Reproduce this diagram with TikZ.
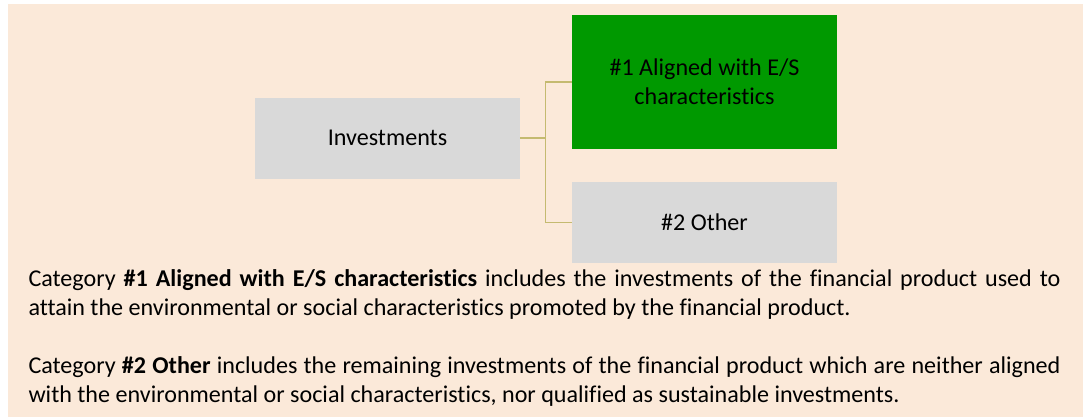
\documentclass[tikz,border=0pt]{standalone}
\usepackage{fontspec}
\setmainfont[RawFeature={-liga;-clig}]{Carlito}
\definecolor{bgpeach}{RGB}{251,233,217}
\definecolor{boxgray}{RGB}{217,217,217}
\definecolor{boxgreen}{RGB}{0,153,0}
\definecolor{linekhaki}{RGB}{196,186,112}
\tikzset{
  catbox/.style={rectangle, inner sep=0pt, minimum width=265pt, align=center,
    font=\fontsize{24.1}{28.5}\selectfont, text=black},
  grayfill/.style={fill=boxgray},
  greenfill/.style={fill=boxgreen},
  link/.style={draw=linekhaki, line width=1.8pt},
  para/.style={anchor=base west, inner sep=0pt, text width=1032pt, align=justify,
    font=\fontsize{24.1}{29}\selectfont, text=black}
}
\begin{document}
\begin{tikzpicture}[x=1pt,y=-1pt]
\useasboundingbox (0,0) rectangle (1088,417);
\fill[bgpeach] (8,4) rectangle (1083,417);
\node[catbox, grayfill, minimum height=80.7pt] (inv) at (387.5,138.3) {Investments};
\node[catbox, greenfill, minimum height=133.7pt] (g1) at (704.5,81.9) {\#1 Aligned with E/S\\characteristics};
\node[catbox, grayfill, minimum height=80.5pt] (g2) at (704.5,222.5) {\#2 Other};
\coordinate (j) at (545.5,138.3);
\draw[link] (inv.east) -- (j);
\draw[link] (j) |- (g1.west);
\draw[link] (j) |- (g2.west);
\node[para] (p1) at (28.3,286) {Category \textbf{\#1 Aligned with E/S characteristics} includes the investments of the financial product used to\linebreak attain the environmental or social characteristics promoted by the financial product.};
\node[para] (p2) at (28.3,373) {Category \textbf{\#2 Other} includes the remaining investments of the financial product which are neither aligned\linebreak with the environmental or social characteristics, nor qualified as sustainable investments.};
\end{tikzpicture}
\end{document}
